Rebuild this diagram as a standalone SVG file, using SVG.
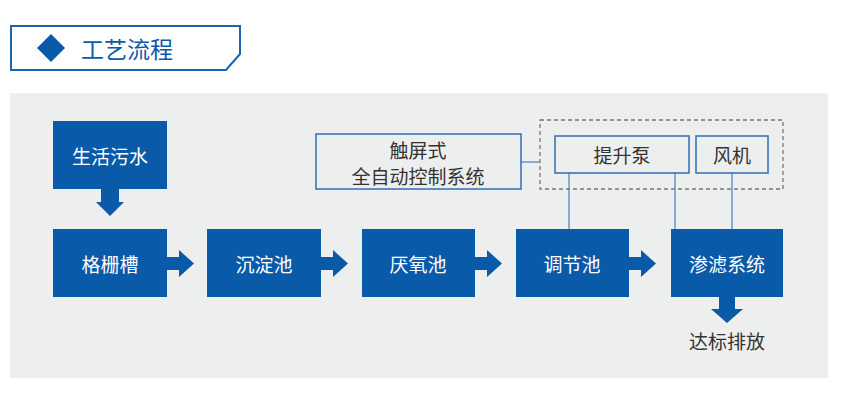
<svg xmlns="http://www.w3.org/2000/svg" width="851" height="400" viewBox="0 0 851 400">
<style>
.t{font-family:"Noto Sans CJK SC","Noto Sans",sans-serif;text-anchor:middle;dominant-baseline:central}
.n rect{fill:#0a5aaa}
.n text{fill:#ffffff;font-size:19px}
.b rect{fill:none;stroke:#2d6fb6;stroke-width:1.5}
.b text{fill:#333333;font-size:19px}
.ar{fill:#0a5aaa}
.ln{stroke:#5b90c9;stroke-width:1.4;fill:none}
</style>
<rect x="0" y="0" width="851" height="400" fill="#ffffff"/>
<g id="header">
<path d="M11,26 H240 V54 L226,70 H11 Z" fill="none" stroke="#1b64b0" stroke-width="2"/>
<path d="M51,34 L65,48 L51,62 L37,48 Z" fill="#0a5aaa"/>
<text class="t" x="127" y="48" font-size="23" fill="#0a5aaa">工艺流程</text>
</g>
<rect x="10" y="93" width="818" height="285" fill="#edeeee"/>
<g id="connectors">
<path class="ar" d="M101,189 H119 V202 H124 L110,216 L96,202 H101 Z"/>
<path class="ar" d="M167,257 H179 V250 L194,263.5 L179,277 V270 H167 Z"/>
<path class="ar" d="M321,257 H333 V250 L348,263.5 L333,277 V270 H321 Z"/>
<path class="ar" d="M475,257 H487 V250 L502,263.5 L487,277 V270 H475 Z"/>
<path class="ar" d="M629,257 H641 V250 L656,263.5 L641,277 V270 H629 Z"/>
<path class="ar" d="M719,297 H735 V309 H743 L727,323 L711,309 H719 Z"/>
<path class="ln" d="M521,162 H540"/>
<path class="ln" d="M569,173 V229"/>
<path class="ln" d="M675,173 V229"/>
<path class="ln" d="M732,173 V229"/>
<rect x="540" y="120" width="243" height="69" fill="none" stroke="#777777" stroke-width="1.3" stroke-dasharray="4,3"/>
</g>
<g id="n1" class="n"><rect x="53" y="121" width="114" height="68"/><text class="t" x="110" y="155">生活污水</text></g>
<g id="n2" class="n"><rect x="53" y="229" width="114" height="68"/><text class="t" x="110" y="263">格栅槽</text></g>
<g id="n3" class="n"><rect x="207" y="229" width="114" height="68"/><text class="t" x="264" y="263">沉淀池</text></g>
<g id="n4" class="n"><rect x="362" y="229" width="113" height="68"/><text class="t" x="418" y="263">厌氧池</text></g>
<g id="n5" class="n"><rect x="516" y="229" width="113" height="68"/><text class="t" x="572" y="263">调节池</text></g>
<g id="n6" class="n"><rect x="671" y="229" width="112" height="68"/><text class="t" x="727" y="263">渗滤系统</text></g>
<g id="ctrl" class="b"><rect x="316" y="134" width="205" height="55"/><text class="t" x="418" y="149">触屏式</text><text class="t" x="418" y="175">全自动控制系统</text></g>
<g id="pump" class="b"><rect x="555" y="136" width="134" height="37"/><text class="t" x="622" y="154.5">提升泵</text></g>
<g id="fan" class="b"><rect x="696" y="136" width="72" height="37"/><text class="t" x="732" y="154.5">风机</text></g>
<g id="out"><text class="t" x="727" y="340" font-size="19" fill="#333333">达标排放</text></g>
</svg>
